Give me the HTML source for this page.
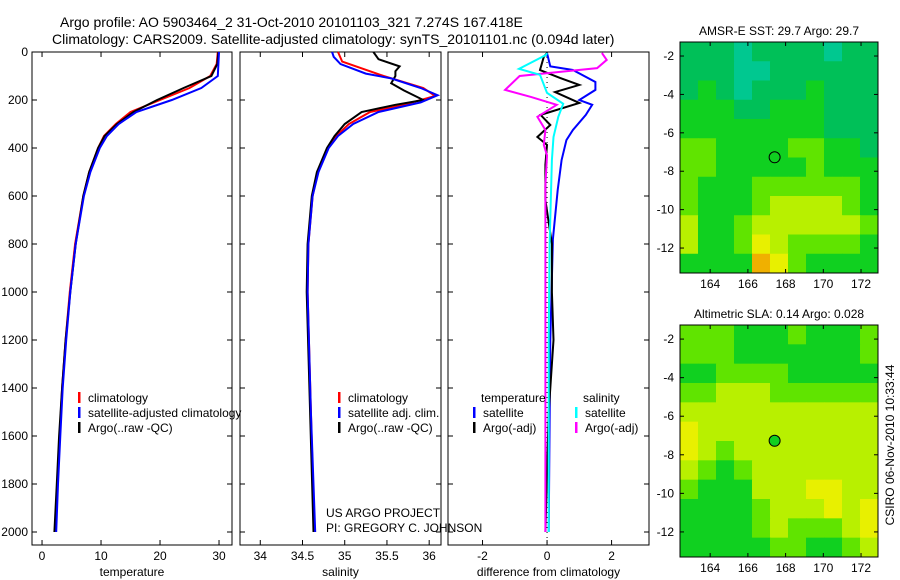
<!DOCTYPE html>
<html><head><meta charset="utf-8"><style>
body{margin:0;background:#fff}
svg{display:block;font-family:"Liberation Sans",sans-serif}
text{fill:#000}
</style></head><body>
<svg id="s" width="900" height="580" viewBox="0 0 900 580">
<text x="60" y="27" font-size="14">Argo profile: AO 5903464_2 31-Oct-2010 20101103_321 7.274S 167.418E</text>
<text x="52" y="44" font-size="14">Climatology: CARS2009. Satellite-adjusted climatology: synTS_20101101.nc (0.094d later)</text>
<text x="326" y="517" font-size="12">US ARGO PROJECT</text>
<text x="326" y="532" font-size="12">PI: GREGORY C. JOHNSON</text>
<text transform="translate(894,445) rotate(-90)" text-anchor="middle" font-size="12">CSIRO 06-Nov-2010 10:33:44</text>
</svg>
<script>
// ---- data ----
const depthTicks=[0,200,400,600,800,1000,1200,1400,1600,1800,2000];
const tempTicks=[0,10,20,30];
const salTicks=[34,34.5,35,35.5,36];
const diffTicks=[-2,0,2];
const tempClimD=[0,50,100,150,200,250,300,350,400,500,600,800,1000,1200,1400,1600,1800,2000];
const tempClimV=[29.8,29.6,28.5,25,20,15,12.5,10.5,9.5,8,7,5.6,4.7,4,3.4,3,2.6,2.3];
const tempSatD=[0,100,150,200,250,300,350,400,500,600,800,1000,1200,1400,1600,1800,2000];
const tempSatV=[30,29.8,27,22,16,13,11,9.8,8.2,7.1,5.7,4.8,4.1,3.5,3.1,2.7,2.4];
const tempArgoD=[0,50,100,150,200,250,300,350,400,500,600,800,1000,1200,1400,1600,1800,2000];
const tempArgoV=[29.9,29.7,28.7,24,19.5,15.5,12.7,10.6,9.5,8,7,5.7,4.8,4,3.4,2.9,2.5,2.1];
const salClimD=[0,40,100,150,183,220,250,300,350,400,500,600,800,1000,1500,2000];
const salClimV=[34.92,34.97,35.46,35.93,36.07,35.7,35.3,35.05,34.9,34.8,34.68,34.62,34.57,34.56,34.6,34.64];
const salSatD=[0,20,50,90,110,150,180,210,250,300,350,400,500,600,800,1000,1500,2000];
const salSatV=[34.85,34.87,34.95,35.25,35.55,35.9,36.1,35.9,35.4,35.1,34.92,34.81,34.69,34.62,34.57,34.56,34.6,34.65];
const salArgoD=[0,30,60,80,100,130,160,200,220,250,300,350,400,500,600,800,1000,1500,2000];
const salArgoV=[35.34,35.4,35.65,35.6,35.6,35.55,35.7,35.93,35.6,35.2,35.0,34.88,34.79,34.67,34.61,34.56,34.55,34.59,34.63];
const dTempSatD=[4,60,75,125,158,200,220,262,325,367,450,575,780,1200,2000];
const dTempSatV=[0,0.1,0.8,1.5,1.5,1.0,1.4,1.2,0.8,0.6,0.45,0.33,0.18,0.1,0.05];
const dTempArgoD=[4,20,75,108,137,167,212,262,304,354,387,470,617,800,1000,1200,1500,2000];
const dTempArgoV=[0,-0.1,-0.22,0.4,1.0,0.25,1.0,-0.2,0.1,-0.3,0,-0.05,-0.05,0.15,0.15,0.2,0.05,-0.05];
const dSalSatD=[4,12,70,95,170,216,270,354,450,800,1200,2000];
const dSalSatV=[0,-0.03,-0.87,-0.22,0,0.5,0.35,0.2,0.15,0.08,0.05,0.05];
const dSalArgoD=[4,33,67,83,100,158,187,220,270,325,387,430,555,1000,1500,2000];
const dSalArgoV=[1.7,1.85,1.55,0.4,-0.85,-1.3,-0.5,0.3,-0.3,-0.05,-0.1,0,-0.05,-0.05,-0.05,-0.05];
const lonTicks=[164,166,168,170,172];
const latTicks=[-2,-4,-6,-8,-10,-12];
const argoLon=167.418, argoLat=-7.274;
const sstGrid=[
[1,1,1,0,1,1,1,1,0,1,1],[1,1,1,0,0,1,1,1,1,1,1],[1,2,1,0,1,1,1,2,1,1,1],[2,2,2,1,1,2,2,2,1,1,1],
[2,2,2,2,2,2,2,2,1,1,1],[3,3,2,2,2,2,3,3,2,2,1],[3,3,2,2,2,2,2,3,2,2,2],[3,2,2,2,3,3,3,3,3,3,2],
[3,2,2,2,3,4,4,4,4,3,2],[4,2,2,3,4,4,4,4,4,4,3],[4,2,2,3,5,4,3,3,3,3,2],[2,2,2,2,6,5,3,2,2,2,2]];
const slaGrid=[
[3,3,3,2,2,2,3,2,2,2,3],[3,3,3,2,2,2,2,2,2,2,3],[2,2,3,3,3,3,2,2,2,2,2],[3,3,4,4,4,3,3,3,3,3,3],
[4,4,4,4,4,4,4,4,4,4,4],[5,4,4,4,4,4,4,4,4,4,4],[5,4,3,4,4,4,4,4,4,4,4],[4,3,2,3,4,4,4,4,4,4,4],
[3,2,2,2,4,4,4,5,5,4,4],[2,2,2,2,3,4,4,4,5,4,5],[2,2,2,2,3,4,3,3,3,4,5],[2,2,2,2,2,3,3,2,2,3,4]];
// ---- drawing ----
const S=document.getElementById('s'),NS='http://www.w3.org/2000/svg';
function E(t,a,p){const e=document.createElementNS(NS,t);for(const k in a)e.setAttribute(k,a[k]);(p||S).appendChild(e);return e;}
const Y0=52,YB=545,dScale=d=>Y0+d*0.24;
function panel(name,x0,x1,lo,hi,ticks,title,showY){
  const g=E('g',{});
  
  
  const sx=v=>x0+(v-lo)/(hi-lo)*(x1-x0);
  E('rect',{x:x0,y:Y0,width:x1-x0,height:YB-Y0,fill:'none',stroke:'#000','stroke-width':1},g);
  ticks.forEach(t=>{const x=sx(t);
    E('line',{x1:x,x2:x,y1:YB,y2:YB-5,stroke:'#000'},g);E('line',{x1:x,x2:x,y1:Y0,y2:Y0+5,stroke:'#000'},g);
    const tx=E('text',{x:x,y:YB+15,'text-anchor':'middle','font-size':12},g);tx.textContent=t;
    
    });
  depthTicks.forEach(d=>{const y=dScale(d);
    E('line',{x1:x0,x2:x0+5,y1:y,y2:y,stroke:'#000'},g);E('line',{x1:x1,x2:x1-5,y1:y,y2:y,stroke:'#000'},g);
    if(showY){const t=E('text',{x:x0-4,y:y+4,'text-anchor':'end','font-size':12},g);t.textContent=d;
      
      }});
  const tt=E('text',{x:(x0+x1)/2,y:576,'text-anchor':'middle','font-size':12},g);tt.textContent=title;
  
  
  return {g,sx};
}
function line(p,D,V,color,nm,w){
  const pts=D.map((d,i)=>p.sx(V[i]).toFixed(1)+','+dScale(d).toFixed(1)).join(' ');
  const l=E('polyline',{points:pts,fill:'none',stroke:color,'stroke-width':w||2},p.g);
  
  
}
function legend(g,x,y,items){
  items.forEach((it,i)=>{const yy=y+i*15;
    if(it[1])E('rect',{x:x,y:yy-10,width:2.5,height:11,fill:it[1]},g);
    const t=E('text',{x:x+(it[1]?10:8),y:yy,'font-size':12},g);t.textContent=it[0];
    
    });
}
const p1=panel('temperature-panel',32,232,-1.7,32.2,tempTicks,'temperature',true);
line(p1,tempClimD,tempClimV,'#f00','temp-climatology-line');
line(p1,tempArgoD,tempArgoV,'#000','temp-argo-line');
line(p1,tempSatD,tempSatV,'#00f','temp-satellite-line');
legend(p1.g,78,402,[['climatology','#f00'],['satellite-adjusted climatology','#00f'],['Argo(..raw -QC)','#000']]);
const p2=panel('salinity-panel',240,441,33.76,36.14,salTicks,'salinity',false);
line(p2,salClimD,salClimV,'#f00','sal-climatology-line');
line(p2,salArgoD,salArgoV,'#000','sal-argo-line');
line(p2,salSatD,salSatV,'#00f','sal-satellite-line');
legend(p2.g,338,402,[['climatology','#f00'],['satellite adj. clim.','#00f'],['Argo(..raw -QC)','#000']]);
const p3=panel('difference-panel',448,649,-3.07,3.16,diffTicks,'difference from climatology',false);
E('line',{x1:p3.sx(0),x2:p3.sx(0),y1:Y0,y2:YB,stroke:'#000','stroke-dasharray':'1,4'},p3.g);
line(p3,dTempSatD,dTempSatV,'#00f','diff-temp-satellite-line');
line(p3,dTempArgoD,dTempArgoV,'#000','diff-temp-argo-line');
line(p3,dSalArgoD,dSalArgoV,'#f0f','diff-sal-argo-line');
line(p3,dSalSatD,dSalSatV,'#0ff','diff-sal-satellite-line');
legend(p3.g,473,402,[['temperature',null],['satellite','#00f'],['Argo(-adj)','#000']]);
legend(p3.g,575,402,[['salinity',null],['satellite','#0ff'],['Argo(-adj)','#f0f']]);
// maps
const cmap=['#00c890','#00c058','#10d020','#60e400','#b8f000','#e8f000','#f0b000'];
function map(name,y0,y1,grid,title,filled){
  const x0=680,x1=878,lonLo=162.4,lonHi=172.9,latHi=-1.27,latLo=-13.3;
  const g=E('g',{});
  
  
  const sx=v=>x0+(v-lonLo)/(lonHi-lonLo)*(x1-x0), sy=v=>y0+(latHi-v)/(latHi-latLo)*(y1-y0);
  const nr=grid.length,nc=grid[0].length,cw=(x1-x0)/nc,ch=(y1-y0)/nr;
  grid.forEach((row,r)=>row.forEach((v,c)=>{
    const cell=E('rect',{x:x0+c*cw,y:y0+r*ch,width:cw+0.5,height:ch+0.5,fill:cmap[v]},g);
    
    }));
  E('rect',{x:x0,y:y0,width:x1-x0,height:y1-y0,fill:'none',stroke:'#000'},g);
  lonTicks.forEach(t=>{const x=sx(t);E('line',{x1:x,x2:x,y1:y1,y2:y1-4,stroke:'#000'},g);E('line',{x1:x,x2:x,y1:y0,y2:y0+4,stroke:'#000'},g);
    const tx=E('text',{x:x,y:y1+15,'text-anchor':'middle','font-size':12},g);tx.textContent=t;
    
    });
  latTicks.forEach(t=>{const y=sy(t);E('line',{x1:x0,x2:x0+4,y1:y,y2:y,stroke:'#000'},g);E('line',{x1:x1,x2:x1-4,y1:y,y2:y,stroke:'#000'},g);
    const tx=E('text',{x:x0-6,y:y+4,'text-anchor':'end','font-size':12},g);tx.textContent=t;
    
    });
  const c=E('circle',{cx:sx(argoLon),cy:sy(argoLat),r:5.5,fill:filled?'#10d020':'none',stroke:'#000'},g);
  
  
  const tt=E('text',{x:(x0+x1)/2,y:y0-7,'text-anchor':'middle','font-size':12},g);tt.textContent=title;
  
  
}
map('sst-map',42,273,sstGrid,'AMSR-E SST: 29.7 Argo: 29.7',false);
map('sla-map',325,557,slaGrid,'Altimetric SLA: 0.14 Argo: 0.028',true);
</script>
</body></html>
